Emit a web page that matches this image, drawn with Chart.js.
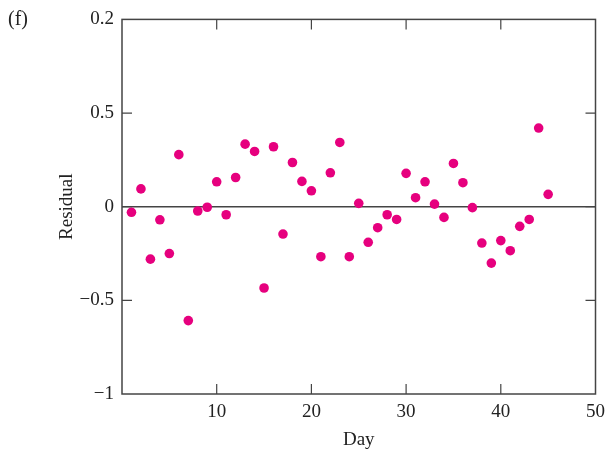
<!DOCTYPE html>
<html>
<head>
<meta charset="utf-8">
<script src="https://cdn.jsdelivr.net/npm/chart.js@4"></script>
<style>
  html, body { margin: 0; padding: 0; background: #fff; }
  #wrap { width: 612px; height: 450px; position: relative; }
</style>
</head>
<body>
<div id="wrap"><canvas id="chart"></canvas></div>
<script>
const days = [];
for (let d = 1; d <= 45; d++) days.push(d);
const residuals = [
  -0.03, 0.095, -0.28, -0.07, -0.25, 0.278, -0.608, -0.023, -0.003, 0.133,
  -0.043, 0.156, 0.334, 0.295, -0.434, 0.32, -0.146, 0.236, 0.135, 0.085,
  -0.267, 0.181, 0.343, -0.267, 0.018, -0.19, -0.112, -0.043, -0.068, 0.178,
  0.048, 0.133, 0.014, -0.057, 0.231, 0.128, -0.005, -0.194, -0.301, -0.181,
  -0.235, -0.105, -0.068, 0.42, 0.066
];
const xTicks = [0, 10, 20, 30, 40, 50];
const yTicks = [-1, -0.5, 0, 0.5, 1];
const yTickLabels = { '-1': '\u22121', '-0.5': '\u22120.5', '0': '0', '0.5': '0.5', '1': '0.2' };

const FONT = "'Liberation Serif', 'DejaVu Serif', serif";
const AXIS = '#444';

// frame, inward ticks and the panel label
const framePlugin = {
  id: 'frame',
  afterDraw(chart) {
    const { ctx, chartArea: a, scales } = chart;
    ctx.save();
    ctx.strokeStyle = AXIS;
    ctx.lineWidth = 1.5;
    ctx.strokeRect(a.left, a.top, a.right - a.left, a.bottom - a.top);
    ctx.lineWidth = 1.2;
    const len = 10;
    ctx.beginPath();
    xTicks.forEach(v => {
      if (v === 0 || v === 50) return;
      const x = scales.x.getPixelForValue(v);
      ctx.moveTo(x, a.bottom); ctx.lineTo(x, a.bottom - len);
      ctx.moveTo(x, a.top); ctx.lineTo(x, a.top + len);
    });
    yTicks.forEach(v => {
      if (v === -1 || v === 1) return;
      const y = scales.y.getPixelForValue(v);
      ctx.moveTo(a.left, y); ctx.lineTo(a.left + len, y);
      ctx.moveTo(a.right, y); ctx.lineTo(a.right - len, y);
    });
    ctx.stroke();
    ctx.fillStyle = '#222';
    ctx.font = '20px ' + FONT;
    ctx.textBaseline = 'middle';
    ctx.fillText('(f)', 8, 20);
    ctx.restore();
  }
};

new Chart(document.getElementById('chart'), {
  type: 'scatter',
  data: {
    datasets: [{
      data: days.map((d, i) => ({ x: d, y: residuals[i] })),
      backgroundColor: '#E6007E',
      borderColor: '#E6007E',
      pointRadius: 4.8,
      pointHoverRadius: 4.8,
      borderWidth: 0
    }]
  },
  options: {
    responsive: true,
    maintainAspectRatio: false,
    animation: false,
    layout: { padding: { top: 19, right: 12, left: 52, bottom: 0 } },
    plugins: { legend: { display: false }, tooltip: { enabled: false } },
    scales: {
      x: {
        type: 'linear', min: 0, max: 50,
        afterBuildTicks: s => { s.ticks = xTicks.map(v => ({ value: v })); },
        afterFit: s => { s.height = 56; },
        grid: { display: false, drawTicks: false },
        border: { display: false },
        ticks: {
          padding: 7, color: '#222', maxRotation: 0,
          font: { family: FONT, size: 19 },
          callback: v => (v === 0 ? '' : String(v))
        },
        title: {
          display: true, text: 'Day', color: '#222', padding: { top: 4, bottom: -1 },
          font: { family: FONT, size: 19 }
        }
      },
      y: {
        type: 'linear', min: -1, max: 1,
        afterBuildTicks: s => { s.ticks = yTicks.map(v => ({ value: v })); },
        afterFit: s => { s.width = 70; },
        grid: {
          drawTicks: false,
          color: c => (c.tick && c.tick.value === 0 ? AXIS : 'rgba(0,0,0,0)'),
          lineWidth: 1.5
        },
        border: { display: false },
        ticks: {
          padding: 8, color: '#222',
          font: { family: FONT, size: 19 },
          callback: v => yTickLabels[String(v)] ?? ''
        },
        title: {
          display: true, text: 'Residual', color: '#222', padding: { bottom: 0 },
          font: { family: FONT, size: 19 }
        }
      }
    }
  },
  plugins: [framePlugin]
});
</script>
</body>
</html>
